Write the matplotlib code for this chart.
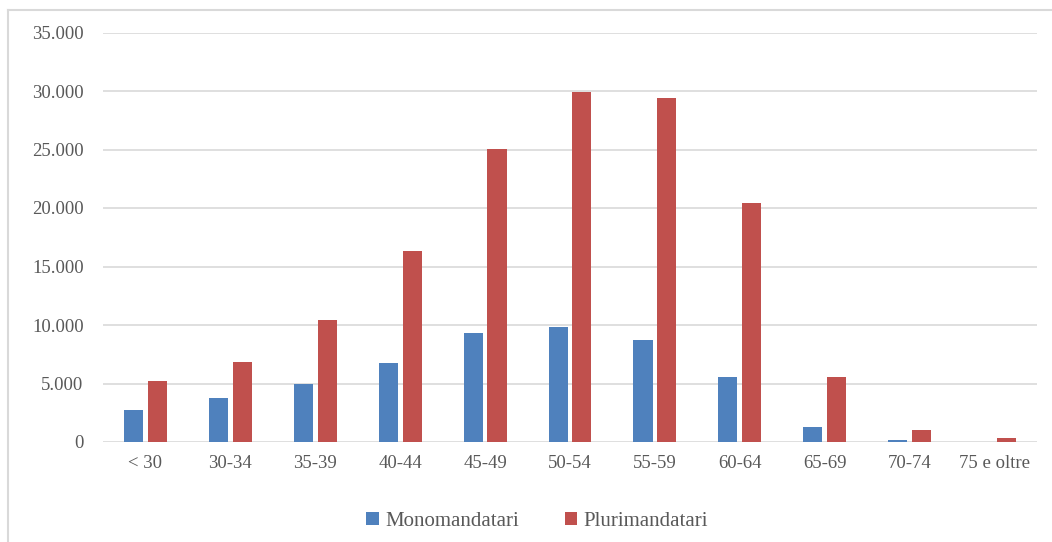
import numpy as np
import matplotlib
matplotlib.use("Agg")
import matplotlib.pyplot as plt
from matplotlib.ticker import FuncFormatter
from matplotlib.lines import Line2D

# fasce d'età e numero di agenti
categorie = ["< 30", "30-34", "35-39", "40-44", "45-49", "50-54",
             "55-59", "60-64", "65-69", "70-74", "75 e oltre"]
monomandatari = [2700, 3750, 5000, 6750, 9300, 9800, 8750, 5550, 1280, 200, 30]
plurimandatari = [5200, 6850, 10450, 16300, 25050, 29900, 29400, 20400, 5550, 1050, 330]

plt.rcParams['font.family'] = ['Liberation Serif', 'DejaVu Serif']

fig = plt.figure(figsize=(10.52, 5.42), dpi=100)
ax = fig.add_axes([103/1052, 1-442/542, 934/1052, (442-32.5)/542])

x = np.arange(len(categorie))
w = 0.225
ax.bar(x - 0.14, monomandatari, w, color="#4F81BD", label="Monomandatari", zorder=3)
ax.bar(x + 0.14, plurimandatari, w, color="#C0504D", label="Plurimandatari", zorder=3)

ax.set_xlim(-0.5, len(categorie) - 0.5)
ax.set_ylim(0, 35000)
ax.set_yticks(range(0, 35001, 5000))
ax.yaxis.set_major_formatter(FuncFormatter(lambda v, p: f"{int(v):,}".replace(",", ".")))
ax.grid(axis="y", color="#D9D9D9", linewidth=1.2, zorder=0)
ax.set_axisbelow(True)
for s in ["top", "right", "left", "bottom"]:
    ax.spines[s].set_visible(False)
ax.tick_params(axis="both", length=0, labelsize=13.5, labelcolor="#595959")
ax.tick_params(axis="y", pad=14)
ax.tick_params(axis="x", pad=9)
ax.set_xticks(x)
ax.set_xticklabels(categorie)

leg = fig.legend(loc="center", bbox_to_anchor=(537/1052, 1-521/542), ncol=2, frameon=False,
                 fontsize=15, handlelength=0.6, handleheight=0.6, columnspacing=2.2,
                 handletextpad=0.3)
for t in leg.get_texts():
    t.set_color("#595959")

# cornice del grafico
fig.add_artist(Line2D([8/1052, 1], [1-10/542, 1-10/542], color="#D9D9D9", lw=1.5))
fig.add_artist(Line2D([8/1052, 8/1052], [0, 1-10/542], color="#D9D9D9", lw=1.5))

fig.savefig("out.png", dpi=100)
